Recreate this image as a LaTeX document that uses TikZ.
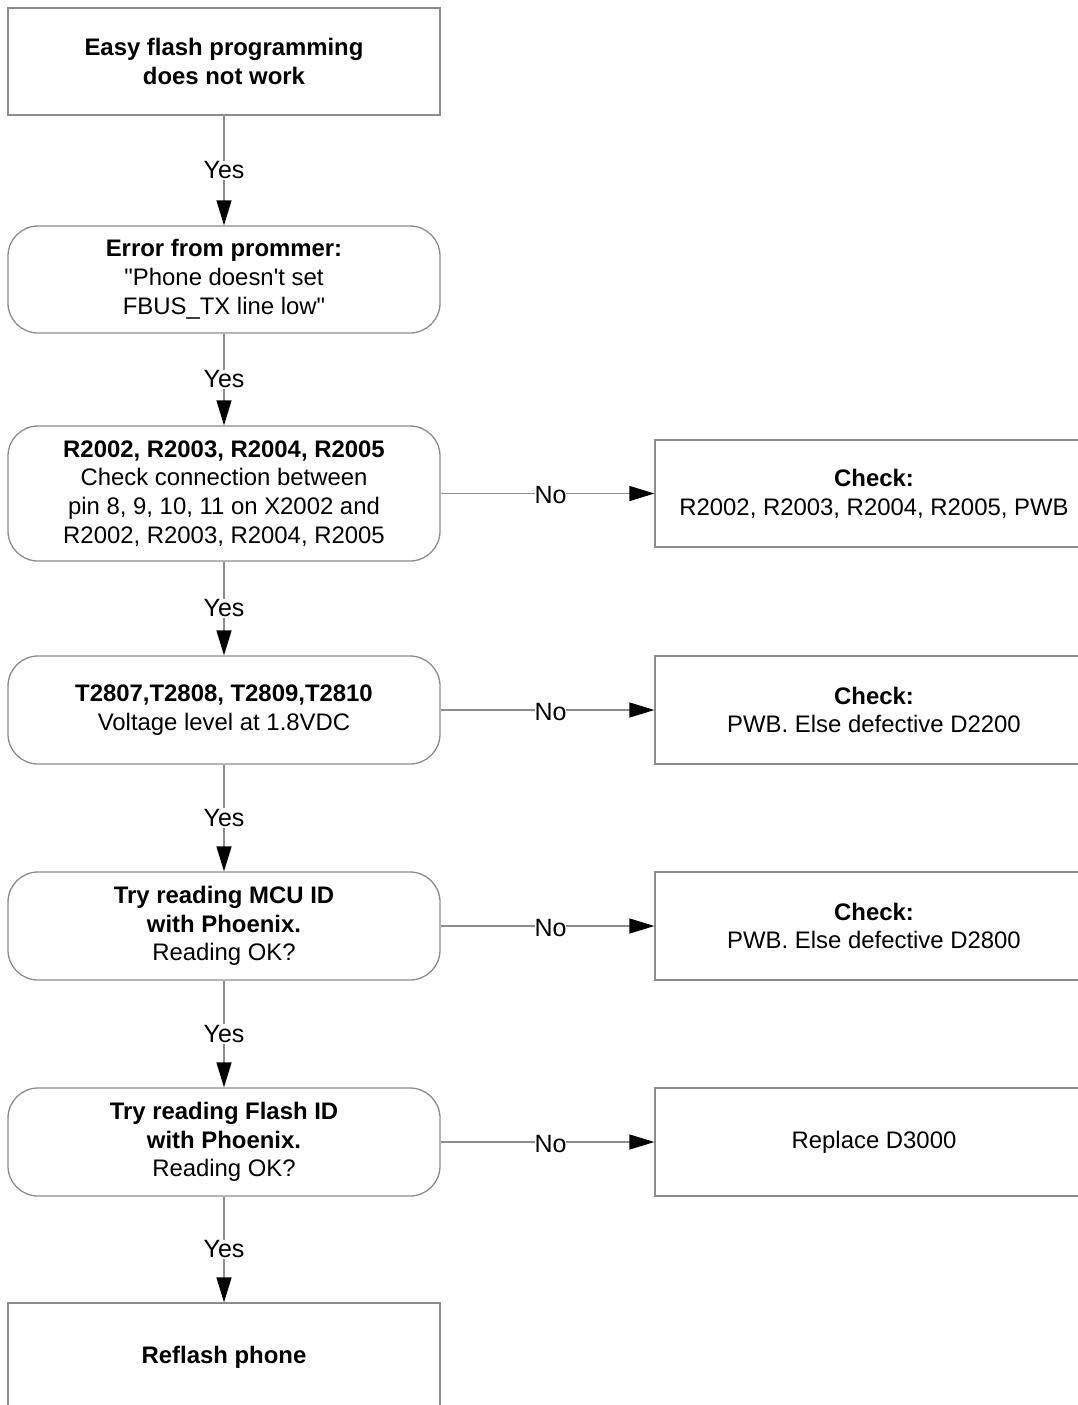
\documentclass[tikz,border=0pt]{standalone}
\usepackage{fontspec}
\setmainfont{Liberation Sans}[Ligatures=TeXOff]
\usetikzlibrary{arrows.meta}
\definecolor{edge}{HTML}{8C8C8C}
\tikzset{
  box/.style={draw=edge, line width=1.3pt, fill=white, align=center, inner sep=0pt,
    font=\fontsize{23.9}{28.8}\selectfont},
  lbox/.style={box, minimum width=432pt},
  rbox/.style={box, minimum width=438pt},
  rbox2/.style={lbox, rounded corners=30pt},
  conn/.style={draw=edge, line width=1.3pt,
    -{Triangle[length=25pt,width=15pt,color=black,fill=black]}},
  lab/.style={fill=white, inner sep=1pt, font=\fontsize{25}{30}\selectfont}
}
\begin{document}
\begin{tikzpicture}[x=1pt,y=-1pt]
\clip (0,0) rectangle (1078,1405);
\fill[white] (0,0) rectangle (1078,1405);
% left column
\node[lbox, minimum height=107pt] (b1) at (224,61.5) {\textbf{Easy flash programming}\\\textbf{does not work}};
\node[rbox2, minimum height=107pt] (b2) at (224,279.5) {\textbf{Error from prommer:}\\"Phone doesn't set\\FBUS\_TX line low"};
\node[rbox2, minimum height=135pt] (b3) at (224,493.5) {\textbf{R2002, R2003, R2004, R2005}\\Check connection between\\pin 8, 9, 10, 11 on X2002 and\\R2002, R2003, R2004, R2005};
\node[rbox2, minimum height=108pt] (b4) at (224,710) {\textbf{T2807,T2808, T2809,T2810}\\Voltage level at 1.8VDC};
\node[rbox2, minimum height=108pt] (b5) at (224,926) {\textbf{Try reading MCU ID}\\\textbf{with Phoenix.}\\Reading OK?};
\node[rbox2, minimum height=108pt] (b6) at (224,1142) {\textbf{Try reading Flash ID}\\\textbf{with Phoenix.}\\Reading OK?};
\node[lbox, minimum height=108pt] (b7) at (224,1357) {\textbf{Reflash phone}};
% right column
\node[rbox, minimum height=107pt] (r1) at (874,493.5) {\textbf{Check:}\\R2002, R2003, R2004, R2005, PWB};
\node[rbox, minimum height=108pt] (r2) at (874,710) {\textbf{Check:}\\PWB. Else defective D2200};
\node[rbox, minimum height=108pt] (r3) at (874,926) {\textbf{Check:}\\PWB. Else defective D2800};
\node[rbox, minimum height=108pt] (r4) at (874,1142) {Replace D3000};
% yes connectors
\foreach \a/\b in {b1/b2,b2/b3,b3/b4,b4/b5,b5/b6,b6/b7}{
  \draw[conn] (\a.south) -- node[lab]{Yes} (\b.north);
}
% no connectors
\foreach \a/\b in {b3/r1,b4/r2,b5/r3,b6/r4}{
  \draw[conn] (\a.east) -- node[lab, inner sep=0pt, yshift=-2pt, xshift=3pt]{No} (\b.west);
}
\end{tikzpicture}
\end{document}
